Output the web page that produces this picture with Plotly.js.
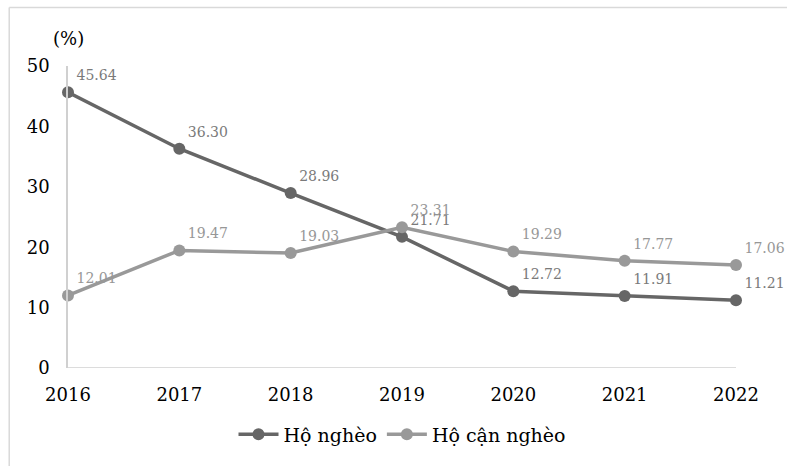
<!DOCTYPE html>
<html><head><meta charset="utf-8">
<script src="https://cdn.plot.ly/plotly-3.0.1.min.js"></script>
<style>body{margin:0;background:#fff}#c{width:787px;height:466px}</style>
</head><body><div id="c"></div>
<script>
const years = [2016, 2017, 2018, 2019, 2020, 2021, 2022];
const hoNgheo = [45.64, 36.30, 28.96, 21.71, 12.72, 11.91, 11.21];
const hoCanNgheo = [12.01, 19.47, 19.03, 23.31, 19.29, 17.77, 17.06];
const yTicks = [0, 10, 20, 30, 40, 50];
const SERIF = "DejaVu Serif";

function mk(name, vals, color, labelColor) {
  return {
    x: years, y: vals, name: name, type: 'scatter', mode: 'lines+markers+text',
    line: {color: color, width: 3.5},
    marker: {color: color, size: 12},
    text: vals.map(v => v.toFixed(2)),
    textposition: 'top right',
    textfont: {family: SERIF, size: 14, color: labelColor},
    cliponaxis: false
  };
}
const data = [mk('Hộ nghèo', hoNgheo, '#666666', '#7a7a7a'), mk('Hộ cận nghèo', hoCanNgheo, '#999999', '#979797')];
const layout = {
  width: 787, height: 466,
  margin: {l: 68, r: 51, t: 66, b: 96},
  paper_bgcolor: '#fff', plot_bgcolor: '#fff',
  font: {family: SERIF, color: '#000', size: 17},
  showlegend: true,
  legend: {orientation: 'h', x: 0.5, xanchor: 'center', y: -0.22, yanchor: 'middle',
           font: {family: SERIF, size: 19, color: '#000'}, itemwidth: 40},
  xaxis: {range: [2016, 2022], tickvals: years, ticktext: years.map(String), showgrid: false,
          zeroline: false, showline: false, ticks: '', ticklabelstandoff: 14,
          tickfont: {family: SERIF, size: 18}},
  yaxis: {range: [0, 50], tickvals: yTicks, showgrid: false, zeroline: false,
          showline: true, linecolor: '#d0d0d0', linewidth: 1.5, ticks: '', ticklabelstandoff: 13,
          tickfont: {family: SERIF, size: 18}},
  shapes: [
    {type: 'line', xref: 'paper', yref: 'y', x0: 0, x1: 1, y0: 0, y1: 0, line: {color: '#d0d0d0', width: 1.5}, layer: 'below'},
    {type: 'line', xref: 'paper', yref: 'paper', x0: -0.088, x1: 1.1, y0: 1.194, y1: 1.194, line: {color: '#d9d9d9', width: 1.5}},
    {type: 'line', xref: 'paper', yref: 'paper', x0: -0.088, x1: -0.088, y0: 1.194, y1: -0.4, line: {color: '#d9d9d9', width: 1.5}}
  ],
  annotations: [{text: '(%)', xref: 'paper', yref: 'paper', x: 0.001, y: 1.09, xanchor: 'center', yanchor: 'middle',
                 showarrow: false, font: {family: SERIF, size: 18, color: '#000'}}]
};
Plotly.newPlot('c', data, layout, {displayModeBar: false});
</script></body></html>
